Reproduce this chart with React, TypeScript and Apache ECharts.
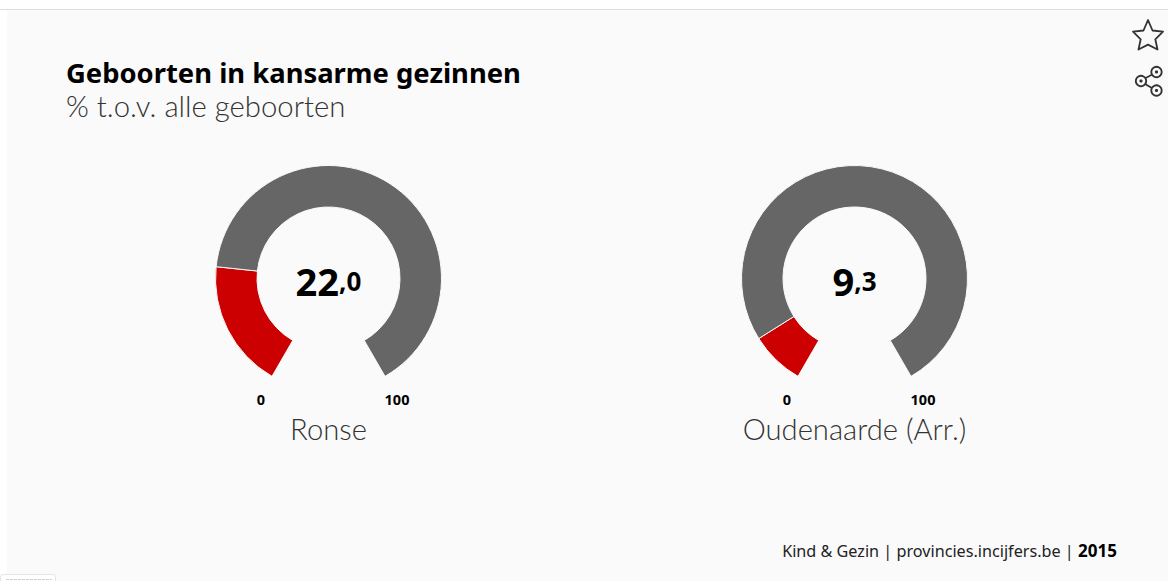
import React, { useEffect, useRef } from "react";
import * as echarts from "echarts";

const places = ["Ronse", "Oudenaarde (Arr.)"];
const whole = ["22", "9"];
const decimals = [",0", ",3"];
const shares = [22.0, 9.3];
const scaleMin = "0";
const scaleMax = "100";
const centersX = [328.5, 854.5];
const RED = "#cc0000";
const GREY = "#666666";
const BG = "#fafafa";
const FONT = "'Noto Sans', sans-serif";
const LIGHT = "Lato, 'Noto Sans', sans-serif";

echarts.graphic.registerShape(
  "star",
  echarts.graphic.extendPath(
    "M16 1 L20.5 11.5 L31 12.6 L23.3 20.3 L25.5 30.5 L16 25.6 L6.5 30.5 L8.7 20.3 L1 12.6 L11.5 11.5 Z",
    {}
  )
);

export default function App() {
  const ref = useRef<HTMLDivElement>(null);
  useEffect(() => {
    document.body.style.margin = "0";
    document.body.style.background = "#ffffff";
    const chart = echarts.init(ref.current!, null, { renderer: "svg" });
    const series: any[] = shares.map((v, i) => ({
      type: "pie",
      center: [centersX[i], 278.5],
      radius: [71.5, 113],
      startAngle: 240,
      endAngle: -60,
      silent: true,
      clockwise: true,
      label: { show: false },
      labelLine: { show: false },
      itemStyle: { borderColor: BG, borderWidth: 1 },
      data: [
        { value: v, name: "share", itemStyle: { color: RED } },
        { value: 100 - v, name: "rest", itemStyle: { color: GREY } },
      ],
    }));
    const iconStroke = { stroke: "#333", lineWidth: 1.8 };
    const graphic: any[] = [
      { type: "rect", silent: true, z: -10, shape: { x: 7, y: 10, width: 1161, height: 571 }, style: { fill: BG } },
      { type: "line", silent: true, z: -9, shape: { x1: 0, y1: 9.5, x2: 1168, y2: 9.5 }, style: { stroke: "#dddddd", lineWidth: 1 } },
      { type: "rect", silent: true, shape: { x: 0.5, y: 574.5, width: 55, height: 10, r: 3 }, style: { fill: "#ffffff", stroke: "#e4e4e4", lineWidth: 1 } },
      { type: "line", silent: true, shape: { x1: 6, y1: 579.5, x2: 52, y2: 579.5 }, style: { stroke: "#cfcfcf", lineWidth: 1, lineDash: [3, 1] } },
      { type: "text", silent: true, style: { text: "Geboorten in kansarme gezinnen", x: 66, y: 72, fontSize: 27.4, fontWeight: 700, fontFamily: FONT, fill: "#000", textVerticalAlign: "middle" } },
      { type: "text", silent: true, style: { text: "% t.o.v. alle geboorten", x: 66, y: 105, fontSize: 29.3, fontWeight: 300, fontFamily: LIGHT, fill: "#333", textVerticalAlign: "middle" } },
      { type: "text", silent: true, style: { text: "Kind & Gezin | provincies.incijfers.be | ", x: 1078, y: 550.5, fontSize: 16.2, fontFamily: FONT, fill: "#222", textAlign: "right", textVerticalAlign: "middle" } },
      { type: "text", silent: true, style: { text: "2015", x: 1078, y: 550.5, fontSize: 17, fontWeight: 700, fontFamily: FONT, fill: "#000", textVerticalAlign: "middle" } },
      { type: "star", silent: true, x: 1132, y: 19, style: { fill: "none", lineJoin: "round", ...iconStroke } },
      { type: "line", silent: true, shape: { x1: 1140, y1: 81, x2: 1157, y2: 72 }, style: iconStroke },
      { type: "line", silent: true, shape: { x1: 1140, y1: 81, x2: 1157, y2: 91 }, style: iconStroke },
      { type: "circle", silent: true, shape: { cx: 1141, cy: 81, r: 5.2 }, style: { fill: BG, ...iconStroke } },
      { type: "circle", silent: true, shape: { cx: 1156.5, cy: 72, r: 5.2 }, style: { fill: BG, ...iconStroke } },
      { type: "circle", silent: true, shape: { cx: 1156.5, cy: 90.5, r: 5.2 }, style: { fill: BG, ...iconStroke } },
      { type: "circle", silent: true, shape: { cx: 1141, cy: 81, r: 1.6 }, style: { fill: "#333" } },
      { type: "circle", silent: true, shape: { cx: 1156.5, cy: 72, r: 1.6 }, style: { fill: "#333" } },
      { type: "circle", silent: true, shape: { cx: 1156.5, cy: 90.5, r: 1.6 }, style: { fill: "#333" } },
    ];
    places.forEach((name, i) => {
      const cx = centersX[i];
      graphic.push(
        { type: "text", silent: true, style: { text: `{a|${whole[i]}}{b|${decimals[i]}}`, x: cx, y: 281, textAlign: "center", textVerticalAlign: "middle", rich: { a: { fontSize: 38, fontWeight: 700, fontFamily: FONT, fill: "#000" }, b: { fontSize: 26, fontWeight: 700, fontFamily: FONT, fill: "#000" } } } },
        { type: "text", silent: true, style: { text: scaleMin, x: cx - 67.5, y: 398.5, textAlign: "center", textVerticalAlign: "middle", fontSize: 14.5, fontWeight: 700, fontFamily: FONT, fill: "#000" } },
        { type: "text", silent: true, style: { text: scaleMax, x: cx + 68.5, y: 398.5, textAlign: "center", textVerticalAlign: "middle", fontSize: 14.5, fontWeight: 700, fontFamily: FONT, fill: "#000" } },
        { type: "text", silent: true, style: { text: name, x: cx, y: 428, textAlign: "center", textVerticalAlign: "middle", fontSize: 29.2, fontWeight: 300, fontFamily: LIGHT, fill: "#333" } }
      );
    });
    chart.setOption({ animation: false, backgroundColor: "transparent", series, graphic });
    return () => chart.dispose();
  }, []);
  return <div ref={ref} style={{ width: 1168, height: 581 }} />;
}
